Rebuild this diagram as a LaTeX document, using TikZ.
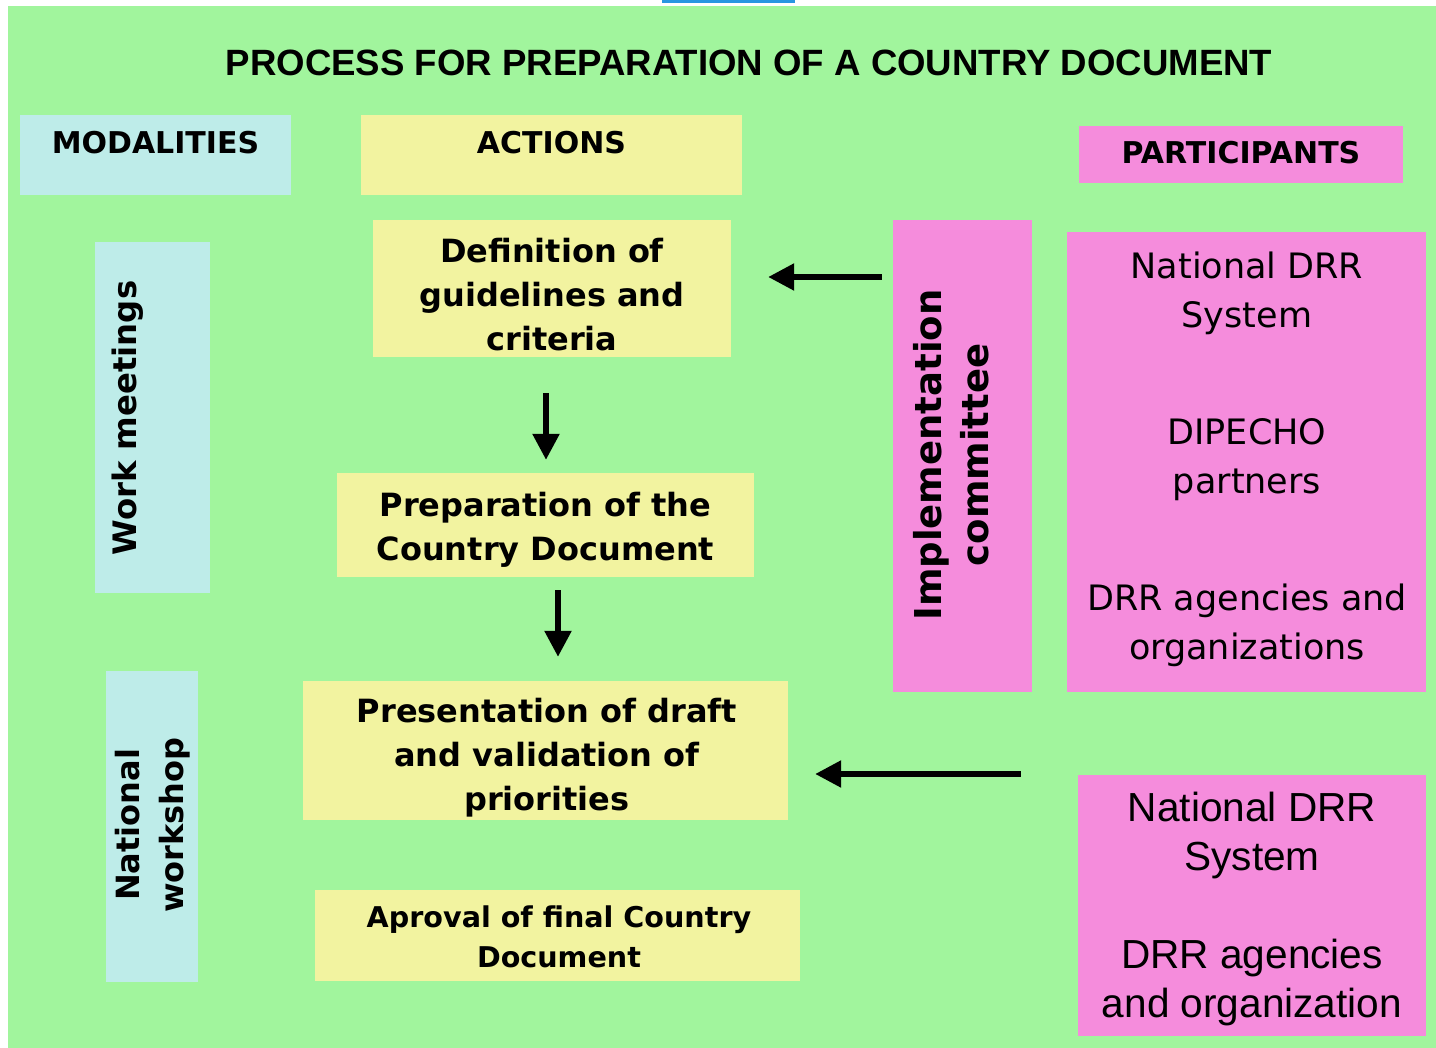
\documentclass[tikz,border=0pt]{standalone}
\usepackage{fontspec}
\setmainfont{DejaVu Sans}
\newfontfamily\arialf{Liberation Sans}
\usetikzlibrary{arrows.meta}
\definecolor{bggreen}{RGB}{161,245,157}
\definecolor{boxcyan}{RGB}{190,236,233}
\definecolor{boxyellow}{RGB}{242,243,160}
\definecolor{boxpink}{RGB}{245,140,220}
\definecolor{topblue}{RGB}{40,150,225}
\newcommand{\fs}[2]{\fontsize{#1pt}{#2pt}\selectfont}
\begin{document}
\begin{tikzpicture}[x=1pt,y=-1pt,
  cbox/.style={fill=boxcyan, draw=none, inner sep=0pt},
  ybox/.style={fill=boxyellow, draw=none, inner sep=0pt},
  pbox/.style={fill=boxpink, draw=none, inner sep=0pt},
  txt/.style={inner sep=0pt, align=center, text=black},
  hdr/.style={txt, font=\bfseries\fs{30}{36}},
  act/.style={txt, font=\bfseries\fs{32}{44}},
  arr/.style={line width=5.5pt, -{Triangle[length=26pt,width=26pt]}}
]
\useasboundingbox (0,0) rectangle (1436,1048);
\fill[white] (0,0) rectangle (1436,1048);
\fill[bggreen] (8,6) rectangle (1436,1048);
\fill[topblue] (662,0) rectangle (795,3);

% title
\node[txt, font=\arialf\bfseries\fs{36.6}{40}] (title) at (749,63) {PROCESS FOR PREPARATION OF A COUNTRY DOCUMENT};

% header boxes
\node[cbox, minimum width=271pt, minimum height=80pt] (modbox) at (155.5,155) {};
\node[hdr] (modtxt) at (155.5,143) {MODALITIES};
\node[ybox, minimum width=381pt, minimum height=80pt] (actbox) at (551.5,155) {};
\node[hdr] (acttxt) at (551.5,143) {ACTIONS};
\node[pbox, minimum width=324pt, minimum height=57pt] (parbox) at (1241,154.5) {};
\node[hdr] (partxt) at (1241,153) {PARTICIPANTS};

% modalities
\node[cbox, minimum width=115pt, minimum height=351pt] (workbox) at (152.5,417.5) {};
\node[txt, rotate=90, font=\bfseries\fs{32.3}{44}] (worktxt) at (128,418) {Work meetings};
\node[cbox, minimum width=92pt, minimum height=311pt] (natbox) at (152,826.5) {};
\node[txt, rotate=90, font=\bfseries\fs{32}{44}] (nattxt) at (153,825) {National\\workshop};

% actions
\node[ybox, minimum width=358pt, minimum height=137pt] (defbox) at (552,288.5) {};
\node[act] (deftxt) at (552,295) {Definition of\\guidelines and\\criteria};
\node[ybox, minimum width=417pt, minimum height=104pt] (prepbox) at (545.5,525) {};
\node[act] (preptxt) at (545.5,530) {Preparation of the\\Country Document};
\node[ybox, minimum width=485pt, minimum height=139pt] (presbox) at (545.5,750.5) {};
\node[act] (prestxt) at (547,758) {Presentation of draft\\and validation of\\priorities};
\node[ybox, minimum width=485pt, minimum height=91pt] (aprbox) at (557.5,935.5) {};
\node[txt, font=\bfseries\fs{28.6}{40}] (aprtxt) at (559,937) {Aproval of final Country\\Document};

% participants
\node[pbox, minimum width=139pt, minimum height=472pt] (impbox) at (962.5,456) {};
\node[txt, rotate=90, font=\bfseries\fs{37}{47}] (imptxt) at (951,455) {Implementation\\committee};
\node[pbox, minimum width=359pt, minimum height=460pt] (p1box) at (1246.5,462) {};
\node[txt, font=\fs{35}{49}] (p1txt) at (1247,459) {National DRR\\System\\[68pt]DIPECHO\\partners\\[68pt]DRR agencies and\\organizations};
\node[pbox, minimum width=348pt, minimum height=261pt] (p2box) at (1252,905.5) {};
\node[txt, font=\arialf\fs{40.6}{49}] (p2txt) at (1252,909) {National DRR\\System\\[49pt]DRR agencies\\and organization};

% arrows
\draw[arr, shorten <=11pt, shorten >=37pt] (impbox.west |- 0,277) -- (defbox.east |- 0,277);
\draw[arr, shorten <=36pt, shorten >=13pt] (defbox.south -| 546,0) -- (prepbox.north -| 546,0);
\draw[arr, shorten <=13pt, shorten >=24pt] (prepbox.south -| 558,0) -- (presbox.north -| 558,0);
\draw[arr, shorten <=57pt, shorten >=27pt] (p2box.west |- 0,774) -- (presbox.east |- 0,774);
\end{tikzpicture}
\end{document}
